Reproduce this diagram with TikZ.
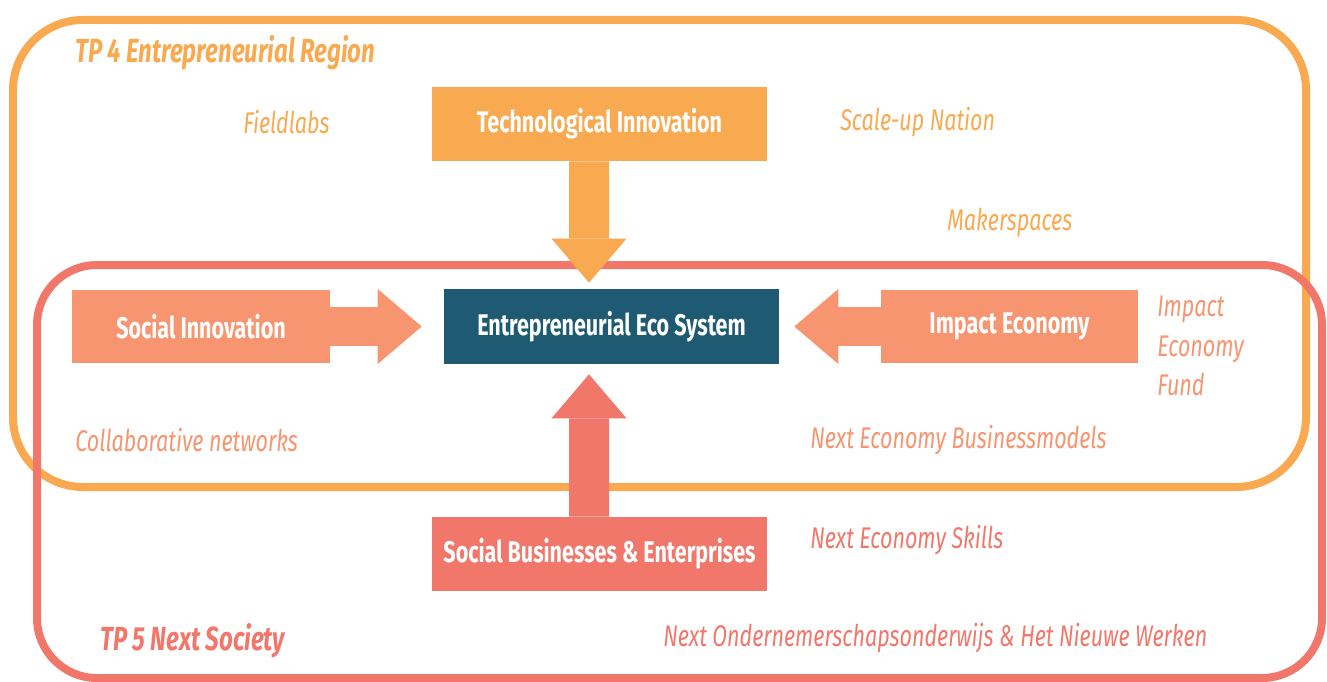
\documentclass[tikz,border=0pt]{standalone}
\usepackage{fontspec}
\setmainfont{Fira Sans}[FakeStretch=0.72]
\usepackage{tikz}
\usetikzlibrary{arrows.meta}

\definecolor{tporange}{HTML}{F9A94F}
\definecolor{tpsalmon}{HTML}{F6956F}
\definecolor{tpred}{HTML}{F1776B}
\definecolor{ecoteal}{HTML}{1F5A73}

\tikzset{
  frame/.style={line width=0.16cm, rounded corners=1.4cm},
  topic/.style={inner sep=0pt, text=white, font=\fontsize{17}{20}\selectfont\bfseries},
  remark/.style={anchor=west, inner sep=0pt, font=\fontsize{17}{22}\selectfont\itshape},
  tptitle/.style={anchor=west, inner sep=0pt, font=\fontsize{19}{22}\selectfont\bfseries\itshape},
  blockarrow/.style={line width=0.8cm, -{Triangle[width=1.5cm,length=0.88cm,line width=0pt]}}
}

\begin{document}
\begin{tikzpicture}[x=0.02cm, y=-0.02cm]
    \useasboundingbox (0,0) rectangle (1327,682);
    \draw [frame, tporange] (13,20) rectangle (1306,487);
    \draw [frame, tpred, rounded corners=1.2cm] (37,265) rectangle (1322,678);

    \node [topic, fill=tporange, minimum width=6.7cm, minimum height=1.48cm] (tech) at (599.5,124) {Technological Innovation};
    \node [topic, fill=ecoteal, minimum width=6.7cm, minimum height=1.5cm] (eco) at (611.5,326.5) {Entrepreneurial Eco System};
    \node [topic, fill=tpsalmon, minimum width=5.16cm, minimum height=1.48cm] (social) at (201,326.5) {Social Innovation};
    \node [topic, fill=tpsalmon, minimum width=5.14cm, minimum height=1.48cm] (impact) at (1009.5,326.5) {Impact Economy};
    \node [topic, fill=tpred, minimum width=6.7cm, minimum height=1.48cm] (sbe) at (599.5,554) {Social Businesses \& Enterprises};

    \draw [blockarrow, tporange, shorten >=0.12cm] ([xshift=-0.21cm]tech.south) -- ([xshift=-0.45cm]eco.north);
    \draw [blockarrow, tpred, shorten >=0.2cm] ([xshift=-0.21cm]sbe.north) -- ([xshift=-0.45cm]eco.south);
    \draw [blockarrow, tpsalmon, shorten >=0.44cm] (social.east) -- (eco.west);
    \draw [blockarrow, tpsalmon, shorten >=0.3cm] (impact.west) -- (eco.east);

    \node [tptitle, text=tporange] (tp4) at (75,53) {TP 4 Entrepreneurial Region};
    \node [remark, text=tporange] (fieldlabs) at (243,122) {Fieldlabs};
    \node [remark, text=tporange] (scaleup) at (840,122) {Scale-up Nation};
    \node [remark, text=tporange] (maker) at (947,223) {Makerspaces};
    \node [remark, text=tpsalmon, align=left, font=\fontsize{17}{22.3}\selectfont\itshape] (fund) at (1157,346) {Impact\\Economy\\Fund};
    \node [remark, text=tpsalmon] (collab) at (75,440) {Collaborative networks};
    \node [remark, text=tpsalmon] (models) at (810,440) {Next Economy Businessmodels};
    \node [remark, text=tpred] (skills) at (810,540) {Next Economy Skills};
    \node [tptitle, text=tpred] (tp5) at (100,641) {TP 5 Next Society};
    \node [remark, text=tpred] (werken) at (663,638) {Next Ondernemerschapsonderwijs \& Het Nieuwe Werken};
\end{tikzpicture}
\end{document}
